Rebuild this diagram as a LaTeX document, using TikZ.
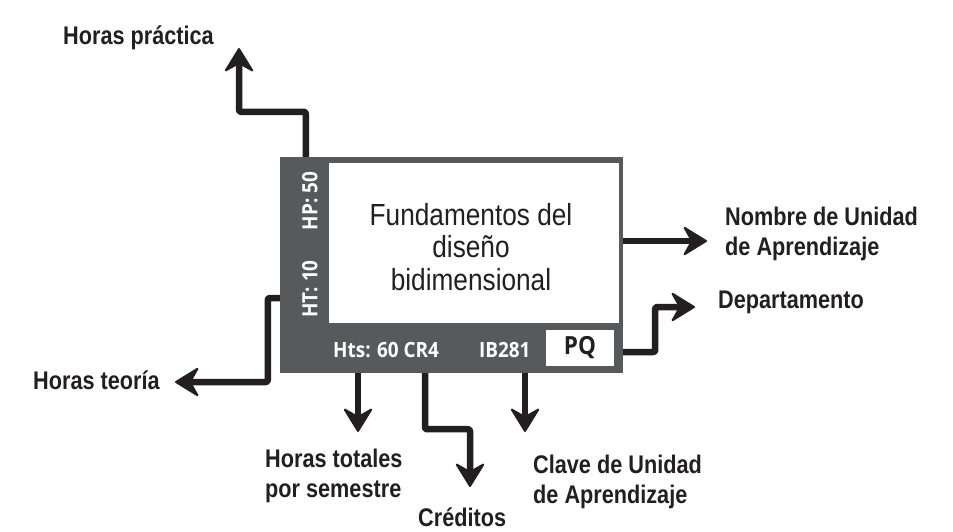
\documentclass[tikz,border=0pt]{standalone}
\usepackage{fontspec}
\setmainfont{Liberation Sans}
\newfontfamily\lblfont[FakeStretch=0.85]{Liberation Sans}
\newfontfamily\titlefont[FakeStretch=0.86]{Liberation Sans}
\newfontfamily\boxfont[FakeStretch=0.9]{Open Sans}
\usetikzlibrary{arrows.meta,backgrounds,calc}
\pgfdeclarelayer{paper}
\pgfsetlayers{paper,background,main}
\definecolor{boxgray}{HTML}{58595B}
\definecolor{ink}{HTML}{231F20}
\tikzset{
  lbl/.style={anchor=base west, inner sep=0pt, align=left, text=ink,
    font=\lblfont\bfseries\fontsize{25.5}{30}\selectfont},
  boxtxt/.style={inner sep=0pt, text=white,
    font=\boxfont\bfseries\fontsize{21}{24}\selectfont},
  arr/.style={line width=6.5pt, draw=ink, line join=round, rounded corners=2pt,
    -{Stealth[length=26pt 0 0,width=32pt 0,inset=9pt 0,line width=2pt,round]}},
}
\begin{document}
\begin{tikzpicture}[x=1pt,y=-1pt]
\begin{pgfonlayer}{paper}
\fill[white] (0,0) rectangle (953,531);
\end{pgfonlayer}
\useasboundingbox (0,0) rectangle (953,531);
% main box
\node[fill=boxgray, minimum width=343, minimum height=216, inner sep=0pt] (box) at (451.5,265) {};
\node[fill=white, minimum width=290, minimum height=160, inner sep=0pt] (inner) at (474,243) {};
\node[anchor=base, inner sep=0pt, align=center, text=ink,
  font=\titlefont\fontsize{30.5}{32.5}\selectfont] (title) at (471,290)
  {Fundamentos del\\diseño\\bidimensional};
\node[fill=white, minimum width=68, minimum height=36, inner sep=0pt,
  text=ink, font=\boxfont\bfseries\fontsize{25}{28}\selectfont] (pq) at (580,348) {PQ};
\node[boxtxt, anchor=base west] (hts) at (333,357) {Hts: 60 CR4};
\node[boxtxt, anchor=base west] (ib) at (479,357) {IB281};
\node[boxtxt, rotate=90] (hpv) at (310,201) {HP: 50};
\node[boxtxt, rotate=90] (htv) at (310,289) {HT: 10};
% labels
\node[lbl] (lhp) at (63,44) {Horas práctica};
\node[lbl] (lht) at (33,389) {Horas teoría};
\node[lbl] (lnu) at (725,255) {Nombre de Unidad\\de Aprendizaje};
\node[lbl] (ldp) at (718,308) {Departamento};
\node[lbl] (lhts) at (265,497) {Horas totales\\por semestre};
\node[lbl] (lcl) at (533,503) {Clave de Unidad\\de Aprendizaje};
\node[lbl] (lcr) at (418,526) {Créditos};
% arrow tips
\coordinate (tHP) at (239,48);
\coordinate (tHT) at (175,382);
\coordinate (tHTS) at (358,432);
\coordinate (tCR) at (470,487);
\coordinate (tCL) at (525,432);
\coordinate (tNU) at (707,241);
\coordinate (tDP) at (695,307);
\begin{scope}[on background layer]
\draw[arr] ([xshift=26pt]box.north west) -- ++(0,-45) -| (tHP);
\draw[arr] (box.west |- 0,298) -- ++(-12,0) |- (tHT);
\draw[arr] (box.south -| tHTS) -- (tHTS);
\draw[arr] (box.south -| 425,0) -- ++(0,56) -| (tCR);
\draw[arr] (box.south -| tCL) -- (tCL);
\draw[arr] (box.east |- tNU) -- (tNU);
\draw[arr] (box.east |- 0,352) -- ++(32,0) |- (tDP);
\end{scope}
\end{tikzpicture}
\end{document}
